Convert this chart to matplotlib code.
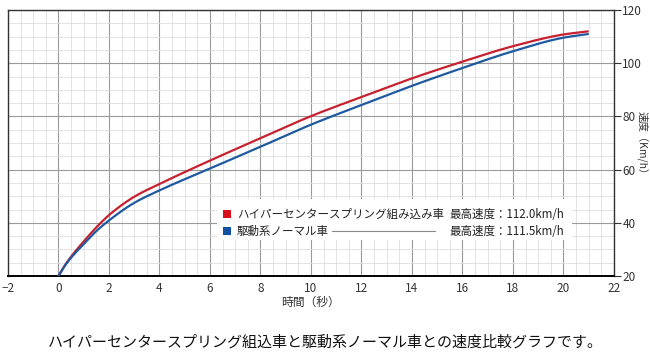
import numpy as np
import matplotlib.pyplot as plt
from matplotlib.patches import Rectangle
from matplotlib.ticker import MultipleLocator

plt.rcParams['font.family'] = ['Noto Sans CJK JP', 'DejaVu Sans']

# time (s) and speed (km/h)
t = [0, 0.25, 0.5, 1, 1.5, 2, 3, 4, 6, 8, 10, 12, 14, 16, 18, 20, 21]
speed_hyper = [20, 24.0, 27.3, 33.0, 38.3, 42.9, 49.8, 54.6, 63.4, 71.8, 80.1, 87.3, 94.3, 100.6, 106.4, 110.8, 112.0]
speed_normal = [20, 23.8, 26.9, 32.0, 36.9, 40.9, 47.5, 52.2, 60.4, 68.6, 76.9, 84.3, 91.5, 98.2, 104.5, 109.6, 111.0]

label_hyper = 'ハイパーセンタースプリング組み込み車'
label_normal = '駆動系ノーマル車'
max_hyper = '最高速度：112.0km/h'
max_normal = '最高速度：111.5km/h'
caption = 'ハイパーセンタースプリング組込車と駆動系ノーマル車との速度比較グラフです。'

red = '#c8202f'
blue = '#1f5aa0'


def pchip(x, y, xs):
    # monotone cubic through the read points (Fritsch-Carlson)
    x = np.asarray(x, float)
    y = np.asarray(y, float)
    h = np.diff(x)
    d = np.diff(y) / h
    m = np.zeros_like(y)
    m[0], m[-1] = d[0], d[-1]
    for k in range(1, len(x) - 1):
        if d[k - 1] * d[k] > 0:
            w1 = 2 * h[k] + h[k - 1]
            w2 = h[k] + 2 * h[k - 1]
            m[k] = (w1 + w2) / (w1 / d[k - 1] + w2 / d[k])
    i = np.clip(np.searchsorted(x, xs) - 1, 0, len(x) - 2)
    s = (xs - x[i]) / h[i]
    h00 = 2 * s**3 - 3 * s**2 + 1
    h10 = s**3 - 2 * s**2 + s
    h01 = -2 * s**3 + 3 * s**2
    h11 = s**3 - s**2
    return h00 * y[i] + h10 * h[i] * m[i] + h01 * y[i + 1] + h11 * h[i] * m[i + 1]


fig = plt.figure(figsize=(6.5, 3.56), dpi=100)
ax = fig.add_axes([0.0123, 0.2247, 0.9323, 0.7472])

ts = np.linspace(0, 21, 400)
ax.plot(ts, pchip(t, speed_hyper, ts), color=red, lw=1.6, zorder=3, solid_capstyle='butt')
ax.plot(ts, pchip(t, speed_normal, ts), color=blue, lw=1.6, zorder=3, solid_capstyle='butt')

ax.set_xlim(-2, 22)
ax.set_ylim(20, 120)
ax.xaxis.set_major_locator(MultipleLocator(2))
ax.xaxis.set_minor_locator(MultipleLocator(0.5))
ax.yaxis.set_major_locator(MultipleLocator(20))
ax.yaxis.set_minor_locator(MultipleLocator(5))
ax.grid(which='minor', color='#dedede', lw=0.6, zorder=0)
ax.grid(which='major', color='#9a9a9a', lw=0.8, zorder=1)
ax.set_axisbelow(True)

for s in ax.spines.values():
    s.set_color('#333333')
    s.set_linewidth(1.0)
ax.spines['bottom'].set_color('black')
ax.spines['bottom'].set_linewidth(1.4)

ax.yaxis.tick_right()
ax.tick_params(axis='y', which='major', length=5, width=0.8, color='#333333', pad=1,
               labelsize=8.5, labelcolor='#333333')
ax.tick_params(axis='x', which='major', length=0, pad=4, labelsize=8.5, labelcolor='#333333')
ax.tick_params(which='minor', length=0)

ax.set_xlabel('時間（秒）', fontsize=8.5, color='#333333', labelpad=1)
fig.text(0.989, 0.593, '速度（Km/h）', rotation=270, ha='center', va='center',
         fontsize=7.5, color='#333333')

# legend box
ax.add_patch(Rectangle((0.345, 0.135), 0.585, 0.155, transform=ax.transAxes,
                       facecolor='white', edgecolor='none', zorder=4))
ax.add_patch(Rectangle((0.355, 0.218), 0.013, 0.03, transform=ax.transAxes,
                       facecolor='#d8101c', edgecolor='none', zorder=5))
ax.add_patch(Rectangle((0.355, 0.154), 0.013, 0.03, transform=ax.transAxes,
                       facecolor='#1050a0', edgecolor='none', zorder=5))
ax.text(0.378, 0.233, label_hyper, transform=ax.transAxes, fontsize=8.3,
        va='center', ha='left', color='#222222', zorder=6)
ax.text(0.378, 0.169, label_normal, transform=ax.transAxes, fontsize=8.3,
        va='center', ha='left', color='#222222', zorder=6)
ax.text(0.918, 0.233, max_hyper, transform=ax.transAxes, fontsize=8.3,
        va='center', ha='right', color='#222222', zorder=6)
ax.text(0.918, 0.169, max_normal, transform=ax.transAxes, fontsize=8.3,
        va='center', ha='right', color='#222222', zorder=6)
ax.plot([0.535, 0.705], [0.169, 0.169], transform=ax.transAxes, color='#888888',
        lw=0.8, zorder=6)

fig.text(0.5, 0.038, caption, ha='center', va='center', fontsize=10.8, color='#111111')

fig.savefig('out.png', dpi=100)
